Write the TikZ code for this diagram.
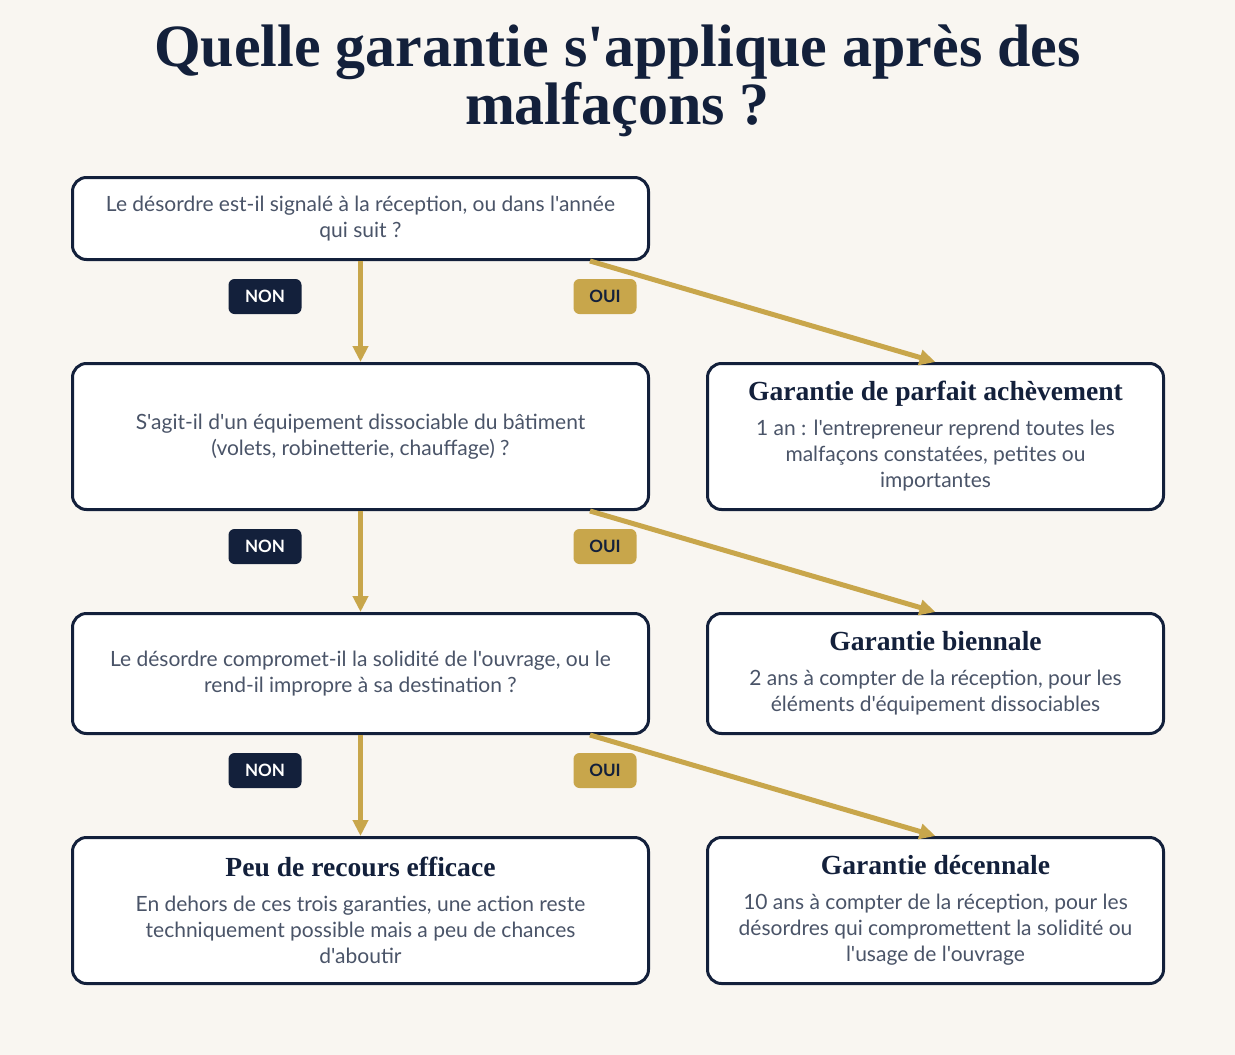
\documentclass[tikz,border=0pt]{standalone}
\usepackage{fontspec}
\setmainfont{Lato}[Ligatures=TeXOff]
\newfontfamily\headfont{Liberation Serif}[Ligatures=TeXOff]
\usepackage{tikz}
\usetikzlibrary{arrows.meta}

\definecolor{navy}{HTML}{13203B}
\definecolor{gold}{HTML}{C8A64B}
\definecolor{slate}{HTML}{4A5468}
\definecolor{cream}{HTML}{F9F6F1}

\newcommand{\boxtitle}[1]{{\headfont\bfseries\fontsize{27.6}{30}\selectfont\color{navy}#1}}

\begin{document}
\begin{tikzpicture}[x=1pt,y=-1pt,
    qbox/.style={draw=navy,line width=3pt,fill=white,rounded corners=14pt,
      minimum width=576pt,align=center,text=slate,inner sep=0pt,
      font=\fontsize{21}{26}\selectfont},
    abox/.style={qbox,minimum width=456pt},
    badge/.style={rounded corners=6pt,minimum height=35pt,inner sep=0pt,
      font=\bfseries\fontsize{17}{20}\selectfont},
    nonbadge/.style={badge,fill=navy,text=white,minimum width=73pt},
    ouibadge/.style={badge,fill=gold,text=navy,minimum width=63pt},
    flow/.style={draw=gold,line width=5pt,-{Triangle[length=16pt,width=15pt]}}]
        \fill[cream] (0,0) rectangle (1235,1055);
        \useasboundingbox (0,0) rectangle (1235,1055);
        \node[font=\headfont\bfseries\fontsize{60}{58}\selectfont,text=navy,align=center]
          (title) at (617.5,81) {Quelle garantie s'applique après des\\malfaçons ?};
        % questions (left column)
        \node[qbox,minimum height=82pt] (q1) at (360.5,218.5)
          {Le désordre est-il signalé à la réception, ou dans l'année\\qui suit ?};
        \node[qbox,minimum height=146pt] (q2) at (360.5,436.5)
          {S'agit-il d'un équipement dissociable du bâtiment\\(volets, robinetterie, chauffage) ?};
        \node[qbox,minimum height=120pt] (q3) at (360.5,673.5)
          {Le désordre compromet-il la solidité de l'ouvrage, ou le\\rend-il impropre à sa destination ?};
        \node[qbox,minimum height=146pt] (none) at (360.5,910.5)
          {\boxtitle{Peu de recours efficace}\\[9pt]En dehors de ces trois garanties, une action reste\\techniquement possible mais a peu de chances\\d'aboutir};
        % answers (right column)
        \node[abox,minimum height=146pt] (gpa) at (935.5,436.5)
          {\boxtitle{Garantie de parfait achèvement}\\[9pt]1 an : l'entrepreneur reprend toutes les\\malfaçons constatées, petites ou\\importantes};
        \node[abox,minimum height=120pt] (gb) at (935.5,673.5)
          {\boxtitle{Garantie biennale}\\[9pt]2 ans à compter de la réception, pour les\\éléments d'équipement dissociables};
        \node[abox,minimum height=146pt] (gd) at (935.5,910.5)
          {\boxtitle{Garantie décennale}\\[9pt]10 ans à compter de la réception, pour les\\désordres qui compromettent la solidité ou\\l'usage de l'ouvrage};
        % arrows
        \draw[flow] (q1.south) -- (q2.north);
        \draw[flow] (q2.south) -- (q3.north);
        \draw[flow] (q3.south) -- (none.north);
        \draw[flow] ([xshift=-60pt]q1.south east) -- (gpa.north);
        \draw[flow] ([xshift=-60pt]q2.south east) -- (gb.north);
        \draw[flow] ([xshift=-60pt]q3.south east) -- (gd.north);
        % badges
        \node[nonbadge] (non1) at ([xshift=-95.5pt,yshift=-35.5pt]q1.south) {NON};
        \node[ouibadge] (oui1) at ([xshift=244.5pt,yshift=-35.5pt]q1.south) {OUI};
        \node[nonbadge] (non2) at ([xshift=-95.5pt,yshift=-35.5pt]q2.south) {NON};
        \node[ouibadge] (oui2) at ([xshift=244.5pt,yshift=-35.5pt]q2.south) {OUI};
        \node[nonbadge] (non3) at ([xshift=-95.5pt,yshift=-35.5pt]q3.south) {NON};
        \node[ouibadge] (oui3) at ([xshift=244.5pt,yshift=-35.5pt]q3.south) {OUI};
\end{tikzpicture}
\end{document}
